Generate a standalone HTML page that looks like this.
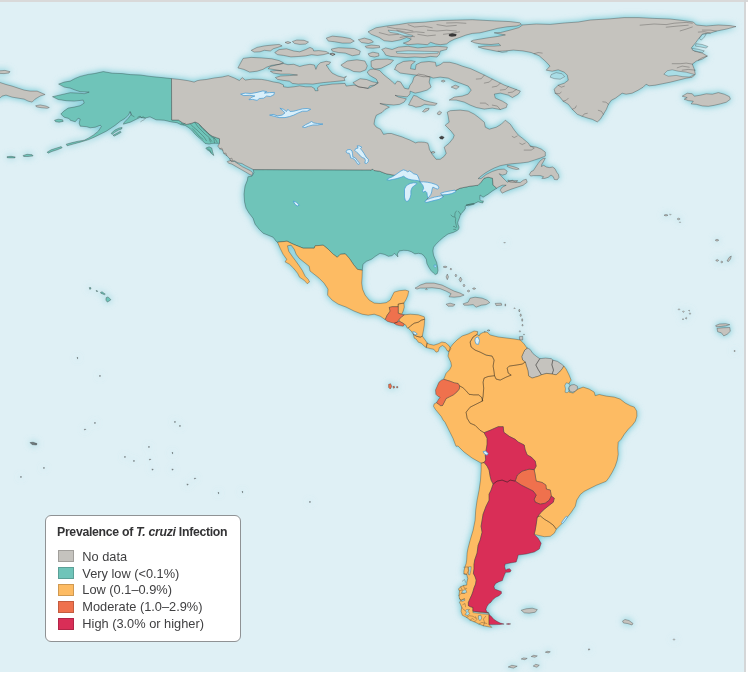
<!DOCTYPE html>
<html lang="en"><head><meta charset="utf-8"><title>Prevalence of T. cruzi Infection</title>
<style>
html,body{margin:0;padding:0;background:#fff;}
body{width:748px;height:673px;overflow:hidden;position:relative;font-family:"Liberation Sans",sans-serif;}
#top{position:absolute;left:0;top:0;width:748px;height:1.7px;background:#d9d9d9;}
#right{position:absolute;left:744.4px;top:0;width:1.9px;height:672px;background:#d4d6d7;}
#map{position:absolute;left:0;top:1.5px;width:744.5px;height:670.5px;background:#dff0f5;overflow:hidden;}
#map svg{position:absolute;left:0;top:-1.5px;}
#legend{position:absolute;left:45px;top:514.8px;width:195.5px;height:127.4px;box-sizing:border-box;background:#fff;border:1px solid #8f9294;border-radius:6px;}
#legend h1{position:absolute;left:11px;top:8.1px;margin:0;font-size:12.3px;line-height:16px;font-weight:bold;color:#333335;white-space:nowrap;letter-spacing:-0.31px;}
#legend ul{list-style:none;margin:0;padding:0;position:absolute;left:12.3px;top:35.2px;}
#legend li{height:16.85px;position:relative;white-space:nowrap;}
#legend li i{position:absolute;left:0;top:-0.5px;width:13.6px;height:9.9px;border:1px solid rgba(0,0,0,.18);}
#legend li span{position:absolute;left:24px;top:-2.2px;font-size:12.8px;line-height:16px;color:#404042;}
</style></head><body>
<div id="map"><svg width="748" height="673" viewBox="0 0 748 673">
<defs><filter id="glow" x="-5%" y="-5%" width="110%" height="110%"><feGaussianBlur stdDeviation="3.7"/><feComponentTransfer><feFuncA type="linear" slope="1.5"/></feComponentTransfer></filter></defs>
<path d="M171.7,120 178.4,120 182.4,122.7 186.4,124.4 191.1,123.4 195.1,122 198.4,123.4 202.4,127.4 205.8,130.7 209.1,134.1 212.5,136.3 216.5,137.7 219.5,138.7 219.5,143.4 215.1,143.2 211.8,143.4 209.1,144.1 205.1,143.4 201.8,140.1 197.8,136.7 194.4,133.4 191.7,130.1 188.4,127.4 185.1,125.4 181,124.7 177,122.7 171.7,122 164.1,120.2 156,119.8 150,116.8 144.4,118.2 140.4,117.2 136.4,119.2 130.3,122.2 123.3,124.2 124.3,122.2 128.3,118.2 131.4,114.1 130.3,111.7 128.3,115.1 125.3,118.2 120.3,121.2 115.3,125.2 112.3,127.2 106.3,131.2 100.3,134.2 94.3,137.2 88.2,139.8 80.2,142.2 74.2,143.8 67.2,145.8 66.2,144.2 72.2,142.6 78.2,141.2 84.2,140.2 88.2,138.2 93.2,135.2 98.3,131.2 101.3,126.6 100.3,125.2 95.3,127.2 90.2,127.8 86.2,126.6 80.2,126.2 79.2,123.2 80.2,119.2 78.2,118.2 75.2,121.8 70.2,120.2 69.2,118.6 64.2,117.2 60.8,114.1 63.8,111.1 68.2,108.1 74.2,107.1 80.2,105.7 84.2,103.1 83.2,100.1 74.2,101.1 66.2,100.7 58.2,99.5 52.5,96.7 62.2,94.5 70.2,92.7 78.2,93.1 84.2,93.7 89.2,92.1 80.2,91.7 75.2,90.1 70.2,88.1 64.2,87.1 58.6,84.1 64.2,82.1 70.2,81.1 75.2,78.4 80.2,76.4 88.2,74.4 94.3,73.6 103.3,71.6 112.3,73.2 122.3,73.6 130.3,74.6 140.4,75 150,76.4 156,77 164.1,77.8 171.5,78.6ZM111.2,133.3 114.9,130.1 119.1,128 122.1,127.5 121.7,128.9 118.5,130.1 114.9,132.1 112.1,134.5ZM113,135.3 116.7,133.3 120.3,131.3 121.2,132.3 117.9,134.2 114.3,136.1ZM54.5,120.2 58.2,119.2 62.6,119.8 63.2,121.4 59.2,122.2 55.7,121.8ZM47.1,152.2 51.1,149.8 56.1,148.2 61.2,146.6 62.2,147.8 57.2,149.8 52.1,151.4 48.1,153.2ZM23.1,155.5 27.1,154.3 32.1,154.7 33.1,155.9 28.1,156.5 23.7,156.5ZM7,156.7 11,156.3 15.2,156.9 14.8,157.9 10,157.9 7.2,157.7ZM205.8,148.1 209.1,146.8 211.8,148.1 212.5,151.4 213.8,155.5 211.8,154.1 209.8,151.4 207.1,149.8ZM-12,82.5 0,82.5 6,84.5 12,86.1 18,88.1 24.1,90.1 30.1,91.1 37.1,91.1 45.1,94.5 40.1,96.1 35.1,99.1 32.1,102.1 28.1,101.1 24.1,99.1 18,98.1 12,97.1 6,95.1 2,96.1 0,98.1 -12,98.1ZM35.7,105.7 40.1,104.9 46.1,106.1 49.3,107.5 47.1,108.3 41.1,107.7 36.5,106.9ZM-8,70.8 0,70.8 5,70.4 10,71.6 9,73 4,73.6 0,73.4 -8,73.4ZM522.1,25 536.2,24 550.2,24.4 564.3,23 578.3,22 590.3,20 610.4,18.8 624.1,17.6 638.1,17.6 654.1,18.4 670.2,19 682.2,20.4 693.3,22 696.3,25 706.3,26 718.3,25 730.4,25.6 736,26.6 726.3,29.1 716.3,31.1 710.3,33.1 702.3,34.1 698.3,39.1 695.3,43.1 691.2,48.1 694.3,51.1 702.3,53.1 707.3,56.1 702.3,59.1 696.3,61.1 692.3,64.1 694.3,69.2 695.3,74.2 692.3,77.2 686.2,78.2 678.2,80.2 670.2,82.2 662.2,83.8 655.2,85.2 649.1,85.8 646.1,84.2 643.1,87.2 638.1,90.2 632.1,93.2 626.1,94.2 622.1,93.2 618.1,96.2 615.4,98.2 611.4,100.2 608.4,104.3 606.4,109.3 603.4,114.3 600.3,119.3 597.3,121.9 592.3,119.3 588.3,118.3 582.3,116.3 577.3,114.3 572.3,109.3 568.3,104.3 563.2,101.2 559.2,96.2 555.2,93.2 554.2,89.2 558.2,85.2 564.3,83.2 568.3,80.2 567.3,75.2 564.3,72.2 558.2,69.8 552.2,71.2 546.2,70.2 550,66.1 545.5,61.3 539.1,55.7 531.1,52.5 523,50.9 513.4,50.1 505.4,50.9 497.4,51.4 491,50.1 482.9,48.5 478.1,46.9 486.1,46.1 494.2,46.1 500.6,45.6 499,43.7 491,44.5 481.3,44 474.9,42.9 470.9,41.3 473.3,40.2 481.3,38.9 489.4,37.6 497.4,36.5 505.4,34.9 500.6,34.1 494.2,32.8 500.6,32.5 510.2,30.1 519,27.6 522.2,25.2ZM682.2,96.2 687.2,93.2 692.3,93.8 694.3,96.2 700.3,95.2 706.3,93.8 712.3,94.2 718.3,92.6 724.3,94.2 729.4,96.6 730.4,99.2 726.3,102.2 720.3,103.9 714.3,105.3 708.3,106.3 702.3,105.9 696.3,104.3 691.2,103.9 693.3,101.2 688.2,100.6 684.2,99.2 687.2,97.6ZM368,31.8 376,27.8 387.3,25.9 398.5,24.6 408.1,23 424.2,22.2 440.2,20.6 456.3,20.1 472.3,19.7 494.2,20.9 510.2,21.6 519.8,22.8 521.4,24.4 516.6,26 507,26.8 497.4,28.4 491,30.1 484.5,31.7 479.9,32.8 472.3,33.4 465.9,35.1 459.5,37.5 454.7,39.1 449.8,41.5 446.6,43.9 440.2,44.7 435.4,43.9 430.6,42.3 427.4,44.7 417.8,43.9 408.1,44.7 403.3,43.1 408.1,41.5 411.3,39.1 406.5,37.5 400.1,39.9 392.1,41.5 384.1,40.7 379.3,37.5 371.2,34.3ZM381.7,49.5 385.7,47.9 392.1,49.5 398.5,47.1 408.1,46.3 417.8,47.9 427.4,47.1 437,46.3 447.4,47.1 446.6,49.5 440.2,51.1 439.4,54.3 437,57 430.6,56.4 424.2,57.5 414.5,57 406.5,57.5 398.5,57 390.5,56.4 385.7,55.1 384.1,52.2ZM171.5,78.6 180.1,79.5 188.1,80.7 194.1,82.1 197.2,80.7 200.2,80.1 206.2,79.5 214.2,78 222.2,77 228.2,75.6 234.3,78 239.3,80.5 242.3,77.6 245.3,80.1 252.3,79.1 261.5,79.4 267.4,80.4 273.2,81.9 279.1,82.9 283.5,84.9 283.5,86.8 287.9,87.4 293.8,86.8 299.7,85.9 305.6,86.8 311.5,86.8 314.4,88.5 315.1,90.7 318.1,90.7 317.4,87.8 320.3,85.6 326.2,84.9 332.1,84.1 337.9,83.8 345,83.4 346.2,86.1 354.2,85.1 360.2,87.1 368.2,88.5 374.3,85.5 378.3,83.1 376.3,79.1 369.2,75.1 367.2,72 370.2,69.4 374.3,69 379.7,70.6 383.7,74.7 387.7,77.9 391.7,81.1 394.9,84.3 397.3,81.1 400.5,81.9 404.5,88.3 408.5,89.1 410.1,85.1 412.4,82.1 414,77.1 418.4,74.1 424.4,75.1 430,77.1 430.1,77.5 429.1,82.1 431.1,87.1 427.1,90.1 420.1,92.1 415.1,93.1 410.1,91.1 410,94 407.1,96.9 398.2,95.9 395,95.3 398.5,97.1 406.3,98.8 404.1,102.1 399.7,104.3 393.8,105 386.5,104.4 379.9,103.5 385.7,105.3 389.4,107.2 385,109.4 382.1,112.4 376.2,115.3 374.7,119.7 374,124.1 376.2,127.1 380.6,129.3 383.5,134.4 387.6,133.5 391.4,133.5 394.6,134.6 397.8,135.6 402.1,136.9 405.3,138.3 409.6,139.9 413.9,142.1 415.5,142.9 418.1,142.1 421.3,142.1 424.5,142.3 427.8,143.1 428.8,146.3 429.4,149.5 432.1,154.3 436.1,159.3 440.2,159.3 444.2,156.3 446.2,153.3 444.2,147.2 449.2,143.2 453.2,138.2 454.2,135.2 451.2,131.2 447.2,127.2 445.2,125.2 449.2,122.2 448.2,116.2 447.2,112.2 450.2,110.7 460.2,110.1 468.2,111.1 474.3,114.2 478.3,117.2 484.3,122.2 485.3,127.2 489.3,129.2 496.3,127.2 501.3,124.2 505.3,120.2 510.3,124.2 514.4,130.2 518.4,135.2 522.4,138.2 528.4,143.2 530.2,146.1 536.3,147.1 541.3,149.1 545.3,152.1 545.3,156.1 540.3,158.1 534.3,160.1 528.2,162.1 520.2,163.1 512.2,163.7 506.2,164.5 500.2,165.7 494.1,168.1 490.1,170.1 485.1,173.1 481.1,176.1 478.1,178.6 481.1,178.6 486.1,174.5 492.1,171.5 498.2,169.5 504.2,169.1 507.2,171.1 506.2,174.1 502.2,175.1 499.2,173.7 502.2,177.2 505.2,180.2 507.2,182.2 512.2,180.2 515.2,182.2 520.2,182.6 523.2,180.2 526.2,179.2 527.2,182.2 523.2,185.2 517.2,187.2 511.2,189.2 506.2,191.2 502.2,193.2 500.2,190.2 502.2,187.2 506.2,185.2 502.2,185.2 498.2,187.2 496.8,188.2 493.1,185.2 492.5,178.2 488.1,177.2 484.1,178.2 481.1,182.2 478.1,185.2 470.1,186.2 460.1,188.2 456,190.2 455.8,190.4 448.6,193 441.4,194.6 443,196.5 434.2,199.3 425.7,201.3 428.6,197.3 431,191.7 429.4,186.1 422.9,182.9 419.7,181.8 418.1,178.9 410.1,176.5 402.1,174.9 394.1,175.2 386,173.7 379.6,171.2 374,170.5 372.4,168.9 371.3,170.1 370,169.9 253.2,169.6 253.2,169.5 249.2,167.5 245.2,165.5 241.9,163.5 237.9,162.8 234.5,160.8 231.2,161.5 229.8,158.8 227.2,156.1 223.8,153.4 222.5,150.1 219.8,148.8 217.8,146.1 219.5,143.4 219.5,138.7 216.5,137.7 212.5,136.3 209.1,134.1 205.8,130.7 202.4,127.4 198.4,123.4 195.1,122 191.1,123.4 186.4,124.4 182.4,122.7 178.4,120 171.7,120ZM227.2,161.5 230.5,160.5 234.5,161.5 238.5,164.1 242.5,166.8 246.6,168.8 250.6,170.8 252.6,172.8 251.9,175.5 249.2,174.2 245.2,171.8 241.2,169.5 236.5,166.8 231.8,164.1 228.5,163.2ZM529.4,174.4 531.1,171.6 533.4,170.5 535.7,167 538,163.6 540.2,160.8 543.1,158.5 545.3,158.2 543.6,161.4 541.9,164.2 541.4,166.5 543.6,165.3 546.5,167 549.3,167.6 552.7,167 555,168.8 556.7,172.2 558.4,174.4 559,177.3 557.3,179.8 554.4,179.5 553.3,176.7 551,175 548.2,177.3 544.8,178.4 541.9,178.4 543.6,176.7 540.2,175.6 536.8,175.6 533.4,175.6 530.6,176.1ZM507.3,165.3 510.7,165.9 514.1,166.8 518.1,168.2 519.2,169.1 516.4,169.5 513,168.8 509.5,167.6 507.3,166.5ZM507.8,180.1 511.2,180.9 514.1,180.7 517.5,180.5 516.9,181.8 513.5,182.4 510.1,182 508.2,181.2ZM253.2,169.6 370,169.9 371.3,170.1 372.4,168.9 374,170.5 379.6,171.2 386,173.7 394.1,175.2 402.1,174.9 410.1,176.5 418.1,178.9 419.7,181.8 422.9,182.9 429.4,186.1 431,191.7 428.6,197.3 425.7,201.3 434.2,199.3 443,196.5 441.4,194.6 448.6,193 455.8,190.4 456,190.2 460.1,188.2 470.1,186.2 478.1,185.2 481.1,182.2 484.1,178.2 488.1,177.2 492.5,178.2 493.1,185.2 496.8,188.2 492.1,191.2 488.1,194.2 483.1,197.2 480.1,195 479.8,197.7 480.1,199.7 481.4,201 483.4,200.9 482.8,203 480.1,202.4 478.1,201.7 476.1,202.7 473.4,204 469.4,204.5 466.7,205 465.1,206.4 465.4,208.4 464.1,210.4 462.4,212.4 461.1,213.7 460.1,215.7 459.4,218.1 458.4,220.4 457.7,222.4 458,224.4 459.1,227.1 458.7,229.1 457.4,230.4 455.4,231.4 453.4,232.4 448,234 443.8,237 439.6,240.6 435.9,244.3 433.5,247.3 432.9,250.9 433.5,255.1 434.7,258.1 436.6,262.3 437.5,266.5 438,270.7 437.2,273.7 435.3,274.6 433.5,273.1 431.1,270.7 428.7,267.1 426.9,263.5 426.3,259.3 423.9,255.7 421.5,253.9 418.5,253.3 414.9,253.9 411.3,251.7 407.7,250.5 403.5,250.3 399.3,250.9 397.4,253.9 398,256.9 396.2,255.1 394.4,253.3 392,255.7 388.4,256.3 384.8,254.5 380,253.3 375.4,256.3 371.4,259.3 366.4,261.3 362.9,264.3 362.3,270.3 357.3,269.3 353.3,264.3 349.3,258.3 345.3,253.9 340.3,254.3 337.3,257.3 333.3,254.3 328.2,249.2 323.2,245.2 315.2,245.8 314.2,248.2 303.2,248.2 293.2,244.2 287.1,241.2 277.5,242.2 276.1,241.2 273.1,237.2 268.1,235.2 263.1,233.2 259.1,229.2 255.1,224.2 253,218.2 249,213.1 246,208.1 244.6,202.1 244,194.1 245,186.1 247.4,180.1 247.9,176.8 251.9,176.2 253.9,172.8ZM466.1,205.2 469.4,204.2 473.4,203.4 474.4,204 471.4,205 468.1,205.8ZM277.5,242.2 287.1,241.2 293.2,244.2 303.2,248.2 314.2,248.2 315.2,245.8 323.2,245.2 328.2,249.2 333.3,254.3 337.3,257.3 340.3,254.3 345.3,253.9 349.3,258.3 353.3,264.3 357.3,269.3 362.3,270.3 362.1,277.1 361.7,283.1 362.5,289.1 365.1,295.1 369.2,300.1 374.2,303.1 380.2,303.5 386.2,302.7 390.2,300.1 392.2,296.1 394.2,292.1 399.2,290.7 405.3,290.1 408.7,291.1 407.9,295.1 406.3,299.1 403.9,303.1 403.9,303.1 401.2,303.5 398.2,304.1 398.2,306.7 392.2,306.7 389.2,307.5 390.2,311.1 387.2,315.2 385.2,319.6 380.2,316.2 374.2,314.2 368.2,315.2 362.1,314.2 354.1,311.1 346.1,307.1 338.1,304.1 332.1,300.1 327.6,295.1 328,289.1 324,283.1 319,278.1 314,274.1 310,271 309.2,266.3 304.2,262.3 299.2,258.3 296.2,254.3 294.2,249.2 291.1,245.2 287.5,245.8 288.7,251.2 292.2,256.3 295.2,260.3 298.8,265.3 302.2,270.3 305.2,276.3 308.2,279.3 309.6,281.9 307.2,283.7 304.2,280.3 299.6,277.3 297.6,273.3 293.6,268.3 289.5,264.3 285.1,261.9 286.7,259.3 283.1,254.3 280.1,248.2ZM385.2,319.6 387.2,315.2 390.2,311.1 389.2,307.5 392.2,306.7 398.2,306.7 398.2,313.2 401.2,314.2 404.3,314.8 402.2,316.2 399.2,319.2 397.2,322.2 394.2,323.2 390.2,322.2 387.2,321.2ZM398.2,304.1 401.2,303.5 403.9,303.1 404.3,307.1 403.2,311.1 401.8,314.2 398.2,313.2 398.2,306.7ZM394.2,323.2 397.2,322.2 399.2,321.2 402.2,322.8 404.3,324.2 403.2,326.2 399.2,325.6 396.2,324.8ZM404.3,314.8 410.3,314.2 418.3,314.8 424.3,316.8 424.7,319.2 421.3,320.2 418.3,322.2 414.3,323.2 411.3,325.2 409.3,327.2 407.3,328.2 405.9,325.2 404.3,324.2 402.2,322.8 399.2,321.2 399.2,319.2 402.2,316.2ZM424.7,319.2 424.3,325.2 423.3,331.2 422.3,336.2 420.3,337.2 416.3,336.2 413.3,334.2 411.3,331.2 408.3,328.2 409.3,327.2 411.3,325.2 414.3,323.2 418.3,322.2 421.3,320.2ZM413.3,334.2 416.3,336.2 420.3,337.2 422.3,336.2 425.3,340.2 427.3,343.2 426.3,347.6 424.3,346.2 421.3,343.2 418.3,342.2 416.3,339.2 414.3,338.2ZM426.9,342.9 429.3,344.2 433.8,345.2 438.2,343.8 441.9,342 445.6,342.7 448.9,345.5 450.8,348.7 449.1,351.5 447.1,350.7 445.3,347.5 442.4,345.5 439.4,347.5 438.2,351.5 436,352.2 433.8,349.3 430,348.5 426.3,347.6ZM418,286.5 420,285.1 426,283.1 434,283.1 442.1,285.1 448.1,288.1 454.1,291.1 460.1,293.1 464.1,295.1 460.1,296.6 454.1,297.2 449.1,296.8 451.1,293.7 446.1,291.1 440.1,288.7 432,287.7 425,288.1 420,288.1 417,289.1 415,288.1ZM446.1,304.2 450.1,303.2 455.1,304.6 453.1,306.2 448.1,306.2ZM463.1,303.8 468.1,302.2 470.1,298.2 475.1,297.2 482.2,298.2 487.2,300.2 489.8,302.6 486.2,304.6 481.2,305.2 476.1,307.2 473.1,304.6 468.1,305.2 464.1,305.2ZM495.2,303.4 501.2,303.2 501.8,305.2 496.2,305.6ZM519.3,336.7 522.7,336.3 522.7,339.9 519.7,339.9ZM443.1,266.9 445.1,266.1 447.1,266.9 445.1,267.7ZM450.1,269.1 450.9,268.1 451.7,269.1 450.9,270.1ZM446.1,276.9 447.3,274.1 448.5,276.9 447.3,279.7ZM455.1,275.5 455.9,274.1 456.7,275.5 455.9,276.9ZM459.1,279.6 460.5,277.1 461.9,279.6 460.5,282.1ZM463.1,285.5 464,284.1 464.9,285.5 464,286.9ZM467.1,291 468.5,290.1 469.9,291 468.5,291.9ZM472.5,288.6 474.1,287.7 475.7,288.6 474.1,289.5ZM504.8,305 505.3,303.8 505.8,305 505.3,306.2ZM513.9,308.4 514.5,307.8 515.1,308.4 514.5,309ZM518.7,310.6 519.3,309.2 519.9,310.6 519.3,312ZM519.9,315.2 520.7,313.8 521.5,315.2 520.7,316.6ZM521.5,320 522.2,318.6 522.9,320 522.2,321.4ZM521.9,325.2 522.5,324.2 523.1,325.2 522.5,326.2ZM519.3,331.4 519.9,330.6 520.5,331.4 519.9,332.2ZM523.5,334.5 524,333.9 524.5,334.5 524,335.1ZM425.6,289.3 426.4,288.5 427.2,289.3 426.4,290.1ZM487.2,330.4 488.6,329.8 490,330.4 488.6,331ZM484.2,331.8 484.8,331.2 485.4,331.8 484.8,332.4ZM450,348 453,344 457,340 462.1,336 468.1,334 474.1,331 477.7,331.6 477.1,334.4 473.1,337 470.1,342 471.1,347 475.1,350.1 480.1,352.1 486.1,355.1 492.1,356.1 494.1,360.1 493.1,366.1 494.1,372.1 494.5,375.7 494.5,375.7 488.1,376.5 484.1,378.1 483.1,382.1 483.7,388.2 483.1,396.2 482.1,401.2 482.1,401.2 482.8,400.9 481.6,397.3 478.6,394.9 473.8,394.9 469,394.3 466.6,391.3 462.9,387.7 459.6,385.9 459.6,385.9 458.1,383.5 454.5,382.9 449.7,381.1 443.7,379.3 446.1,373.2 449.7,369.6 451.5,366 450.9,362.4 448,356.1 449,351.1ZM438.3,399.7 440.1,397.3 437.7,396.1 435.9,394.3 435.5,390.1 437.1,386.5 438.9,382.3 441.3,380.2 443.7,379.3 449.7,381.1 454.5,382.9 458.1,383.5 459.6,385.9 459.6,385.9 459.3,388.9 456.9,391.9 453.3,394.9 449.7,396.7 446.1,398.5 444.3,402.1 442.5,405.5 440.7,405.7 438.3,403.9 436.5,402.7ZM494.5,375.7 494.1,372.1 493.1,366.1 494.1,360.1 492.1,356.1 486.1,355.1 480.1,352.1 475.1,350.1 471.1,347 470.1,342 473.1,337 477.1,334.4 479.1,336 480.1,334 483.1,332.4 487.1,332 490.1,335 498.2,337 506.2,338 514.2,339 520.2,340 524.2,344 527.2,348.4 527.4,348 524.7,350.1 523.4,352.7 521.7,356.7 522.7,360.1 525.4,362.1 525.2,362.1 522.2,364.1 516.2,365.1 509.2,366.1 507.2,368.1 508.2,373.1 511.2,375.1 506.2,377.1 500.2,380.1 496.1,379.1 494.5,375.7ZM525.4,362.1 522.7,360.1 521.7,356.7 523.4,352.7 524.7,350.1 527.4,348 530.1,349.4 532.8,353.4 536.8,356.7 539.8,358.7 538.1,361.4 535.8,365 538.1,369.4 541.4,374.8 541.4,374.8 538.8,376.1 532.1,378.1 528.7,376.1 527.8,370.1 526.1,365 525.4,362.1ZM541.4,374.8 538.1,369.4 535.8,365 538.1,361.4 539.8,358.7 545.5,358.1 551.5,358.7 552.8,360.1 551.9,364.8 553.5,370.1 552.1,374.1 552.1,374.1 546.8,373.4 541.4,374.8ZM552.1,374.1 553.5,370.1 551.9,364.8 552.8,360.1 557.5,361.4 561.5,364.1 563.9,366.1 562.2,368.8 559.5,372.1 556.1,374.8 552.1,374.1ZM494.5,375.7 496.1,379.1 500.2,380.1 506.2,377.1 511.2,375.1 508.2,373.1 507.2,368.1 509.2,366.1 516.2,365.1 522.2,364.1 525.2,362.1 525.4,362.1 526.1,365 527.8,370.1 528.7,376.1 532.1,378.1 538.8,376.1 541.4,374.8 541.4,374.8 546.8,373.4 552.1,374.1 552.1,374.1 556.1,374.8 559.5,372.1 562.2,368.8 563.9,366.1 566.1,369 569.1,375 571.1,380.1 569.1,383.1 567.1,387.1 569.1,392.1 573.1,393.1 578.1,389.1 583.1,387.1 589.2,389.1 594.2,392.1 595.2,395.7 599.2,394.5 606.2,396.1 614.2,397.1 620.2,399.1 625.3,403.1 630.3,405.7 634.3,407.1 636.7,411.1 636.9,416.1 635.3,421.2 632.3,425.2 628.3,429.2 624.3,434.2 621.2,439.2 618.2,442.2 617.8,448.2 618.2,454.3 617.2,460.3 615.2,466.3 612.2,472.3 609.2,477.3 606.2,481.3 601.2,483.3 596.2,485.3 590.2,488.3 584.1,491.4 580.3,494.5 576.7,500.2 575.3,506.2 571.3,512.2 567.3,517.2 563.3,522.2 559.3,526.2 556.3,529.2 553.3,525.2 549.3,522.2 544.3,519.2 540.2,515.8 537.2,517.2 537.2,517.2 540.2,513.2 544.3,509.2 549.3,505.2 553.3,502.2 554.3,498.2 551.3,496.1 551.3,496.1 550.3,490.1 546.3,489.1 545.9,485.1 542.2,482.5 536.2,481.1 535.2,475.1 534.2,469.7 534.2,469.7 536.2,466.1 535.2,461.1 531.2,457 527.2,455 525.2,450 524.2,445 518.2,442 515.2,439.3 509.2,436.3 503.8,432.3 503.2,426.7 498.2,426.7 490.1,430.3 484.1,432.7 484.1,432.7 480.1,430.3 478.1,428.3 475.1,425.3 470.1,423.2 467.1,418.2 466.1,412.2 470.1,407.2 476.1,404.2 482.1,401.2 482.1,401.2 483.1,396.2 483.7,388.2 483.1,382.1 484.1,378.1 488.1,376.5 494.5,375.7ZM568.9,387.5 570.9,385.1 574.2,384.5 577.3,386.1 577.5,388.8 575.5,391.2 572.2,392.2 569.5,390.8ZM436.5,402.7 438.3,403.9 440.7,405.7 442.5,405.5 444.3,402.1 446.1,398.5 449.7,396.7 453.3,394.9 456.9,391.9 459.3,388.9 459.6,385.9 459.6,385.9 462.9,387.7 466.6,391.3 469,394.3 473.8,394.9 478.6,394.9 481.6,397.3 482.8,400.9 482.1,401.2 476.1,404.2 470.1,407.2 466.1,412.2 467.1,418.2 470.1,423.2 475.1,425.3 478.1,428.3 480.1,430.3 484.1,432.7 487.1,438.3 487.1,444.3 486.1,450.3 485.3,455.3 485.7,460.1 484.1,462.5 481.1,463.1 472.1,458 464,452 458,446 456,446.3 453,438.3 449,430.3 445,422.2 443.1,420 441.3,416.6 438.3,412.9 435.3,409.3 433.5,406.3 434.1,403.9ZM484.1,432.7 490.1,430.3 498.2,426.7 503.2,426.7 503.8,432.3 509.2,436.3 515.2,439.3 518.2,442 524.2,445 525.2,450 527.2,455 531.2,457 535.2,461.1 536.2,466.1 534.2,469.7 534.2,469.7 529.2,469.1 522.2,471.1 517.2,475.1 515.2,481.1 515.2,481.1 510.2,480.1 507.2,482.1 502.1,480.1 497.1,481.1 493.1,484.1 493.1,484.1 491.1,480.1 490.1,476.1 489.1,470.1 487.1,466.1 484.1,462.5 484.1,462.5 485.7,460.1 485.3,455.3 486.1,450.3 487.1,444.3 487.1,438.3 484.1,432.7ZM515.2,481.1 517.2,475.1 522.2,471.1 529.2,469.1 534.2,469.7 534.2,469.7 535.2,475.1 536.2,481.1 542.2,482.5 545.9,485.1 546.3,489.1 550.3,490.1 551.3,496.1 551.3,496.1 549.3,500.2 545.3,503.2 540.2,504.2 535.2,502.2 534.2,499.2 536.2,495.1 533.2,491.1 527.2,488.1 521.2,485.1 515.2,481.1ZM537.2,517.2 540.2,515.8 544.3,519.2 549.3,522.2 553.3,525.2 556.3,529.2 554.3,533.2 550.3,536.3 544.3,536.7 538.2,535.3 534.2,534.3 535.2,530.2 536.2,524.2 537.2,517.2ZM493.1,484.1 497.1,481.1 502.1,480.1 507.2,482.1 510.2,480.1 515.2,481.1 515.2,481.1 521.2,485.1 527.2,488.1 533.2,491.1 536.2,495.1 534.2,499.2 535.2,502.2 540.2,504.2 545.3,503.2 549.3,500.2 551.3,496.1 554.3,498.2 553.3,502.2 549.3,505.2 544.3,509.2 540.2,513.2 537.2,517.2 536.2,524.2 535.2,530.2 534.2,534.3 538.2,538.3 541.2,543.3 539.3,549 534.3,552 526.2,554 518.2,555 517.2,559 516.2,562 510.2,563 505.2,564.1 504.6,566.7 505.7,570.3 507.4,569.1 509.6,568.7 511.1,570.3 510.2,572 508,572.3 505.7,572.3 504.6,574.5 503.3,577.8 502.4,580.6 499,581.7 495.7,583.4 494,586.2 494.6,589 497.9,590.3 501.3,591.4 501.5,593.4 499,595.7 495.7,597.3 492.9,599.6 490.7,602.4 488.5,604 486.8,606.8 485.9,609.6 486.8,611.8 489,613.3 486.2,612.4 482.3,612.2 476.8,611.8 472.9,611.3 472.9,607.4 470.6,606.8 468.4,605.7 468.4,602.4 470.1,598.5 471.7,595.1 472.9,591.8 474,587.9 475.6,584 476.2,580.1 475.1,576.7 473.4,573.4 474,568.9 474,564.5 474.7,560 477.1,553 478.1,545.3 480.1,540.3 482.1,532.2 481.1,526.2 482.1,520.2 483.1,514.2 486.1,506.2 489.1,500.2 489.1,494.1 491.1,490.1 493.1,484.1ZM489,614.6 491.2,616.3 493.5,619.1 496.8,621.3 500.2,623 504.1,624.1 500.2,624.4 496.8,624.6 489,624.6ZM506.3,624 508.5,623.6 510.7,623.9 508.5,624.4ZM484.1,462.5 487.1,466.1 489.1,470.1 490.1,476.1 491.1,480.1 493.1,484.1 493.1,484.1 491.1,490.1 489.1,494.1 489.1,500.2 486.1,506.2 483.1,514.2 482.1,520.2 481.1,526.2 482.1,532.2 480.1,540.3 478.1,545.3 477.1,553 474.7,560 474,564.5 474,568.9 473.4,573.4 475.1,576.7 476.2,580.1 475.6,584 474,587.9 472.9,591.8 471.7,595.1 470.1,598.5 468.4,602.4 468.4,605.7 470.6,606.8 472.9,607.4 472.9,611.3 476.8,611.8 482.3,612.2 486.2,612.4 489,613.3 489,614.6 489,624.6 491.8,627.4 487.9,626.7 483.4,625.8 479,624.1 474.5,621.9 470.1,620.2 466.7,617.4 462.3,615.2 461.1,611.3 461.7,607.4 460.6,604.6 459.5,602.4 460.6,600.7 459.5,598.5 458.9,595.7 459.5,591.2 458.4,589 460.6,586.8 463.4,585.6 466.7,585.1 466.9,582.3 467.8,578.4 466.7,574.5 463.9,573.9 463.9,571.1 465,566.7 466.2,563.3 466.7,560 467.1,553 468,548.3 470.1,540.3 473.1,530.2 475.1,520.2 475.7,510.2 477.1,500.2 479.1,490.1 480.5,480.1 481.1,470.1 481.1,463.1ZM521.2,610.2 526.2,608.8 532.2,608.2 537.3,609.6 535.3,612.2 529.2,613.2 524.2,612.8ZM545.3,652.2 547.3,651.3 550.3,651.8 548.3,652.9ZM531.2,656.5 533.6,655.3 537.3,655.9 534.9,657.3ZM521.2,659 523.6,657.9 527.2,658.4 524.8,659.7ZM508.2,667 511.8,665.3 517.2,666.2 513.6,668.1ZM533.2,666.1 535.7,664.3 539.3,665.2 536.9,667.3ZM588,649.6 588.8,648.9 590,649.2 589.2,650.1ZM388.6,384.3 390.6,383.7 391.8,386.4 390.2,389 388.6,387.4ZM393,386.6 394.2,386.1 394.6,387.8 393.4,388.2ZM396.6,386.6 397.8,386.6 397.8,387.8 396.6,387.8ZM237.9,67.9 243.1,58.4 251.2,57.4 261.5,57.9 271.8,58.8 279.1,60.6 283.5,62.8 279.1,64.3 271.8,65.3 266.6,67.2 262.9,69.4 257.1,71.2 249.7,72.1 243.8,69.4ZM268.1,68.7 270.3,66.5 276.2,65 283.5,63.5 287.9,64.7 293.8,64.3 299.7,66.5 304.1,65.3 310,64.3 314.4,65 315.9,69.4 317.4,65.7 320.3,62.8 326.2,61.3 330.6,62.1 329.1,64.3 326.2,65 329.1,69.4 332.1,73.1 337.9,76 343.8,77.5 346.5,76.3 344,78.7 345,80.4 337.9,81.2 330.6,81.9 323.2,82.6 317.4,83.4 312.9,84.1 305.6,83.8 298.2,84.1 292.4,83.4 289.4,81.2 283.5,80.4 277.6,79.4 275.4,77.5 280.6,76 289.4,75.6 297.5,75 289.4,74.1 280.6,74.1 273.2,73.1 270.3,71.2 276.2,70.6 282.1,70.9 273.2,69.4ZM251.2,50.3 257.1,47.4 264.4,45.9 271.8,45.1 279.1,44.4 282.1,45.9 277.6,47.4 273.2,48.8 270.3,51 264.4,50.3 260,51.8 254.1,52.1ZM274.7,52.5 279.1,49.6 286.5,48.8 293.8,51 299.7,51.8 305.6,49.6 310,47.4 312.9,48.8 313.7,51 318.8,50.6 326.2,51.5 329.1,53.2 323.2,54.7 317.4,55.4 311.5,54.7 305.6,55.9 298.2,56.5 290.9,56.9 283.5,55.4 277.6,54.7ZM329.9,54.1 332.4,53.5 335,54.4 332.8,55.4ZM285,42.4 287.9,41.5 290.9,42.6 287.9,43.7ZM292.4,41.5 296.8,40 304.1,40.3 308.5,42.1 305.6,44.1 299.7,44.4 294.6,43.5ZM326.3,38.1 332.3,36.1 342.3,37.1 350.3,38.5 354.3,41.1 350.3,43.1 342.3,43.1 334.3,41.7 328.3,41.1ZM358.3,39.7 364.4,38.1 371.4,40.1 373.4,42.1 368.4,43.5 361.4,42.5ZM331.3,49.1 338.3,47.7 346.3,48.1 354.3,48.5 360.3,51.1 359.3,54.5 352.3,55.7 345.3,53.1 338.3,52.5 332.3,51.1ZM340.9,65.1 347.3,61 356.9,59.8 364.9,61 367.3,65.9 365.7,69.9 360.1,72 353.7,71.5 348.9,69.1 344.1,67.5ZM371,61 376.1,59.4 387.4,59.1 393.5,60.2 390.6,63.4 385.8,65.9 381,68.3 374.5,69.1 371.3,66.7ZM352.9,82.7 360.1,78.7 366.5,79.5 372.9,81.9 377.8,82.7 374.5,85.1 369.7,85.9 368.1,88.3 363.3,87.5 358.5,87ZM368.1,53.8 372.9,52.2 378.6,53.3 379,55.9 374.5,57 369.7,56.2ZM365.2,46.3 371.3,45 379.4,45.8 379.7,47.6 372.9,48.2 366.5,47.9ZM329.6,53.8 332.8,53 335.2,54.3 332.5,55.4ZM394.5,69.5 396.9,64.7 403.3,61.5 411.3,60.7 415.3,61.5 411.3,64.7 410.5,68.7 415.3,69.5 416.1,64.7 421,62.3 429,61.5 435.4,62.3 436.2,66.3 440.2,64.7 443.4,62.3 449.8,62.3 456.3,63.9 462.7,66.3 470.7,68.7 482.3,74.1 490.3,78.1 496.3,81.1 504.3,85.1 512.4,88.1 520.4,91.1 518.4,94.1 512.4,97.5 508.3,95.1 500.3,93.1 494.3,94.1 495.3,98.1 502.3,101.1 507.3,104.1 506.3,107.5 500.3,109.5 492.3,108.1 484.3,109.1 476.3,107.5 470.2,105.1 464.2,102.1 456.2,100.1 449.2,100.1 454.2,97.1 462.2,96.1 468.2,94.1 471.2,90.1 468.2,86.1 460.2,83.1 454.2,81.1 448.2,78.1 440.2,77.1 433.1,78.1 430.1,76.7 423.1,76.7 416.1,75.1 408.1,74.1 400.1,73 396,70ZM408.5,105 410.7,100.6 413.7,95.4 416.6,96.2 420.3,98.4 424.7,100.6 430.6,102.1 437.2,103.5 435,105.3 429.1,105 424.7,104.3 420.3,106.5 415.9,107.2 412.2,105.7ZM422.5,111.6 425.4,108.7 429.1,108.2 428.4,110.1 424.7,112.1ZM437.2,113.1 439.4,111.2 441.6,112.4 440.1,114.6 437.9,114.6ZM451.2,87.1 455.2,85.1 459.2,86.7 456.2,89.1ZM441.2,81.1 443.2,80.1 445.2,81.1 443.2,82.1ZM431.1,152.3 433.1,151.3 435.1,152.3 433.1,153.3ZM439.4,137.2 441.8,136 444.2,137.2 442.6,139.2 440.2,138.8ZM106.1,297.7 108.1,296.9 110.9,299.7 109.3,300.9 107.3,302.1 105.9,300.1ZM100.5,292.3 102.1,291.8 104.1,293.3 105.3,294.1 104.5,294.7 102.5,293.9 100.9,293.3ZM96.1,290.5 97.3,290.7 97.7,291.5 96.5,291.5ZM89.3,287.6 90.7,287.5 91,288.9 89.7,289.3ZM664,215.2 666,214.4 668,215.2 666,216ZM669.7,214.5 670.3,213.9 670.9,214.5 670.3,215.1ZM677.1,219 678.6,218.2 680.1,219 678.6,219.8ZM679.5,222.3 680,221.8 680.5,222.3 680,222.8ZM715.2,240.2 717,239.2 718.8,240.2 717,241.2ZM715.7,260.4 717.2,259.4 718.7,260.4 717.2,261.4ZM720.7,262 721.8,261.1 722.9,262 721.8,262.9ZM678.25,309.4 679,308.65 679.75,309.4 679,310.15ZM682.6,311.6 683.4,310.8 684.2,311.6 683.4,312.4ZM688.6,310.6 689.2,310 689.8,310.6 689.2,311.2ZM689.35,313.6 690,312.8 690.65,313.6 690,314.4ZM685.3,318.2 686.2,317.4 687.1,318.2 686.2,319ZM682.3,319.2 683,318.55 683.7,319.2 683,319.85ZM733.8,351 734.6,350.2 735.4,351 734.6,351.8ZM504,242.6 504.6,242 505.2,242.6 504.6,243.2ZM727,261 729,257.5 731.3,256 730.5,259 728.5,261.5ZM715.7,325.5 719.5,324 725.8,323.7 729.8,324.7 725.8,325.8 720.2,326.5 716.2,326.8ZM717,328.3 723.3,327.8 729.8,327.5 730.3,331.3 727.1,334.3 723.8,335.9 721.3,332.8 717.7,331.8ZM76.85,358 77.5,357.35 78.15,358 77.5,358.65ZM99.35,376 100,375.35 100.65,376 100,376.65ZM43.35,468 44,467.35 44.65,468 44,468.65ZM20.35,477 21,476.35 21.65,477 21,477.65ZM94.35,423 95,422.35 95.65,423 95,423.65ZM84.35,429.5 85,428.85 85.65,429.5 85,430.15ZM174.35,422 175,421.35 175.65,422 175,422.65ZM179.35,426 180,425.35 180.65,426 180,426.65ZM148.35,447 149,446.35 149.65,447 149,447.65ZM124.35,457 125,456.35 125.65,457 125,457.65ZM133.35,461 134,460.35 134.65,461 134,461.65ZM149.35,459.5 150,458.85 150.65,459.5 150,460.15ZM151.85,469.5 152.5,468.85 153.15,469.5 152.5,470.15ZM171.85,469.5 172.5,468.85 173.15,469.5 172.5,470.15ZM171.85,453 172.5,452.35 173.15,453 172.5,453.65ZM186.85,484.5 187.5,483.85 188.15,484.5 187.5,485.15ZM194.35,478.5 195,477.85 195.65,478.5 195,479.15ZM217.85,493 218.5,492.35 219.15,493 218.5,493.65ZM241.85,492 242.5,491.35 243.15,492 242.5,492.65ZM309.35,502 310,501.35 310.65,502 310,502.65ZM30,442.6 33,442.2 37,443.6 36.5,445 32,444.6ZM622.5,621 625,619.5 629,620.5 633,623.5 632,625 627.5,623.5 623.5,623ZM673.25,639.5 674,638.75 674.75,639.5 674,640.25ZM677.2,72.6 684.2,73 686.6,75.2 679.8,75ZM449,34.6 452.2,33.6 456.3,34.3 455.9,35.9 451.8,36.5 449.2,35.9ZM553.2,75.4 558.2,74.2 561.8,76.2 558.2,77.8 554.2,77.4Z" fill="#8dd2dc" stroke="#8dd2dc" stroke-width="0.8" stroke-linejoin="round" filter="url(#glow)"/>
<path d="M171.7,120 178.4,120 182.4,122.7 186.4,124.4 191.1,123.4 195.1,122 198.4,123.4 202.4,127.4 205.8,130.7 209.1,134.1 212.5,136.3 216.5,137.7 219.5,138.7 219.5,143.4 215.1,143.2 211.8,143.4 209.1,144.1 205.1,143.4 201.8,140.1 197.8,136.7 194.4,133.4 191.7,130.1 188.4,127.4 185.1,125.4 181,124.7 177,122.7 171.7,122 164.1,120.2 156,119.8 150,116.8 144.4,118.2 140.4,117.2 136.4,119.2 130.3,122.2 123.3,124.2 124.3,122.2 128.3,118.2 131.4,114.1 130.3,111.7 128.3,115.1 125.3,118.2 120.3,121.2 115.3,125.2 112.3,127.2 106.3,131.2 100.3,134.2 94.3,137.2 88.2,139.8 80.2,142.2 74.2,143.8 67.2,145.8 66.2,144.2 72.2,142.6 78.2,141.2 84.2,140.2 88.2,138.2 93.2,135.2 98.3,131.2 101.3,126.6 100.3,125.2 95.3,127.2 90.2,127.8 86.2,126.6 80.2,126.2 79.2,123.2 80.2,119.2 78.2,118.2 75.2,121.8 70.2,120.2 69.2,118.6 64.2,117.2 60.8,114.1 63.8,111.1 68.2,108.1 74.2,107.1 80.2,105.7 84.2,103.1 83.2,100.1 74.2,101.1 66.2,100.7 58.2,99.5 52.5,96.7 62.2,94.5 70.2,92.7 78.2,93.1 84.2,93.7 89.2,92.1 80.2,91.7 75.2,90.1 70.2,88.1 64.2,87.1 58.6,84.1 64.2,82.1 70.2,81.1 75.2,78.4 80.2,76.4 88.2,74.4 94.3,73.6 103.3,71.6 112.3,73.2 122.3,73.6 130.3,74.6 140.4,75 150,76.4 156,77 164.1,77.8 171.5,78.6ZM111.2,133.3 114.9,130.1 119.1,128 122.1,127.5 121.7,128.9 118.5,130.1 114.9,132.1 112.1,134.5ZM113,135.3 116.7,133.3 120.3,131.3 121.2,132.3 117.9,134.2 114.3,136.1ZM54.5,120.2 58.2,119.2 62.6,119.8 63.2,121.4 59.2,122.2 55.7,121.8ZM47.1,152.2 51.1,149.8 56.1,148.2 61.2,146.6 62.2,147.8 57.2,149.8 52.1,151.4 48.1,153.2ZM23.1,155.5 27.1,154.3 32.1,154.7 33.1,155.9 28.1,156.5 23.7,156.5ZM7,156.7 11,156.3 15.2,156.9 14.8,157.9 10,157.9 7.2,157.7ZM205.8,148.1 209.1,146.8 211.8,148.1 212.5,151.4 213.8,155.5 211.8,154.1 209.8,151.4 207.1,149.8ZM253.2,169.6 370,169.9 371.3,170.1 372.4,168.9 374,170.5 379.6,171.2 386,173.7 394.1,175.2 402.1,174.9 410.1,176.5 418.1,178.9 419.7,181.8 422.9,182.9 429.4,186.1 431,191.7 428.6,197.3 425.7,201.3 434.2,199.3 443,196.5 441.4,194.6 448.6,193 455.8,190.4 456,190.2 460.1,188.2 470.1,186.2 478.1,185.2 481.1,182.2 484.1,178.2 488.1,177.2 492.5,178.2 493.1,185.2 496.8,188.2 492.1,191.2 488.1,194.2 483.1,197.2 480.1,195 479.8,197.7 480.1,199.7 481.4,201 483.4,200.9 482.8,203 480.1,202.4 478.1,201.7 476.1,202.7 473.4,204 469.4,204.5 466.7,205 465.1,206.4 465.4,208.4 464.1,210.4 462.4,212.4 461.1,213.7 460.1,215.7 459.4,218.1 458.4,220.4 457.7,222.4 458,224.4 459.1,227.1 458.7,229.1 457.4,230.4 455.4,231.4 453.4,232.4 448,234 443.8,237 439.6,240.6 435.9,244.3 433.5,247.3 432.9,250.9 433.5,255.1 434.7,258.1 436.6,262.3 437.5,266.5 438,270.7 437.2,273.7 435.3,274.6 433.5,273.1 431.1,270.7 428.7,267.1 426.9,263.5 426.3,259.3 423.9,255.7 421.5,253.9 418.5,253.3 414.9,253.9 411.3,251.7 407.7,250.5 403.5,250.3 399.3,250.9 397.4,253.9 398,256.9 396.2,255.1 394.4,253.3 392,255.7 388.4,256.3 384.8,254.5 380,253.3 375.4,256.3 371.4,259.3 366.4,261.3 362.9,264.3 362.3,270.3 357.3,269.3 353.3,264.3 349.3,258.3 345.3,253.9 340.3,254.3 337.3,257.3 333.3,254.3 328.2,249.2 323.2,245.2 315.2,245.8 314.2,248.2 303.2,248.2 293.2,244.2 287.1,241.2 277.5,242.2 276.1,241.2 273.1,237.2 268.1,235.2 263.1,233.2 259.1,229.2 255.1,224.2 253,218.2 249,213.1 246,208.1 244.6,202.1 244,194.1 245,186.1 247.4,180.1 247.9,176.8 251.9,176.2 253.9,172.8ZM466.1,205.2 469.4,204.2 473.4,203.4 474.4,204 471.4,205 468.1,205.8ZM106.1,297.7 108.1,296.9 110.9,299.7 109.3,300.9 107.3,302.1 105.9,300.1ZM100.5,292.3 102.1,291.8 104.1,293.3 105.3,294.1 104.5,294.7 102.5,293.9 100.9,293.3ZM96.1,290.5 97.3,290.7 97.7,291.5 96.5,291.5ZM89.3,287.6 90.7,287.5 91,288.9 89.7,289.3Z" fill="#6fc4b9" stroke="#1a1a1a" stroke-opacity="0.6" stroke-width="0.5" stroke-linejoin="round"/>
<path d="M-12,82.5 0,82.5 6,84.5 12,86.1 18,88.1 24.1,90.1 30.1,91.1 37.1,91.1 45.1,94.5 40.1,96.1 35.1,99.1 32.1,102.1 28.1,101.1 24.1,99.1 18,98.1 12,97.1 6,95.1 2,96.1 0,98.1 -12,98.1ZM35.7,105.7 40.1,104.9 46.1,106.1 49.3,107.5 47.1,108.3 41.1,107.7 36.5,106.9ZM-8,70.8 0,70.8 5,70.4 10,71.6 9,73 4,73.6 0,73.4 -8,73.4ZM522.1,25 536.2,24 550.2,24.4 564.3,23 578.3,22 590.3,20 610.4,18.8 624.1,17.6 638.1,17.6 654.1,18.4 670.2,19 682.2,20.4 693.3,22 696.3,25 706.3,26 718.3,25 730.4,25.6 736,26.6 726.3,29.1 716.3,31.1 710.3,33.1 702.3,34.1 698.3,39.1 695.3,43.1 691.2,48.1 694.3,51.1 702.3,53.1 707.3,56.1 702.3,59.1 696.3,61.1 692.3,64.1 694.3,69.2 695.3,74.2 692.3,77.2 686.2,78.2 678.2,80.2 670.2,82.2 662.2,83.8 655.2,85.2 649.1,85.8 646.1,84.2 643.1,87.2 638.1,90.2 632.1,93.2 626.1,94.2 622.1,93.2 618.1,96.2 615.4,98.2 611.4,100.2 608.4,104.3 606.4,109.3 603.4,114.3 600.3,119.3 597.3,121.9 592.3,119.3 588.3,118.3 582.3,116.3 577.3,114.3 572.3,109.3 568.3,104.3 563.2,101.2 559.2,96.2 555.2,93.2 554.2,89.2 558.2,85.2 564.3,83.2 568.3,80.2 567.3,75.2 564.3,72.2 558.2,69.8 552.2,71.2 546.2,70.2 550,66.1 545.5,61.3 539.1,55.7 531.1,52.5 523,50.9 513.4,50.1 505.4,50.9 497.4,51.4 491,50.1 482.9,48.5 478.1,46.9 486.1,46.1 494.2,46.1 500.6,45.6 499,43.7 491,44.5 481.3,44 474.9,42.9 470.9,41.3 473.3,40.2 481.3,38.9 489.4,37.6 497.4,36.5 505.4,34.9 500.6,34.1 494.2,32.8 500.6,32.5 510.2,30.1 519,27.6 522.2,25.2ZM682.2,96.2 687.2,93.2 692.3,93.8 694.3,96.2 700.3,95.2 706.3,93.8 712.3,94.2 718.3,92.6 724.3,94.2 729.4,96.6 730.4,99.2 726.3,102.2 720.3,103.9 714.3,105.3 708.3,106.3 702.3,105.9 696.3,104.3 691.2,103.9 693.3,101.2 688.2,100.6 684.2,99.2 687.2,97.6ZM368,31.8 376,27.8 387.3,25.9 398.5,24.6 408.1,23 424.2,22.2 440.2,20.6 456.3,20.1 472.3,19.7 494.2,20.9 510.2,21.6 519.8,22.8 521.4,24.4 516.6,26 507,26.8 497.4,28.4 491,30.1 484.5,31.7 479.9,32.8 472.3,33.4 465.9,35.1 459.5,37.5 454.7,39.1 449.8,41.5 446.6,43.9 440.2,44.7 435.4,43.9 430.6,42.3 427.4,44.7 417.8,43.9 408.1,44.7 403.3,43.1 408.1,41.5 411.3,39.1 406.5,37.5 400.1,39.9 392.1,41.5 384.1,40.7 379.3,37.5 371.2,34.3ZM381.7,49.5 385.7,47.9 392.1,49.5 398.5,47.1 408.1,46.3 417.8,47.9 427.4,47.1 437,46.3 447.4,47.1 446.6,49.5 440.2,51.1 439.4,54.3 437,57 430.6,56.4 424.2,57.5 414.5,57 406.5,57.5 398.5,57 390.5,56.4 385.7,55.1 384.1,52.2ZM171.5,78.6 180.1,79.5 188.1,80.7 194.1,82.1 197.2,80.7 200.2,80.1 206.2,79.5 214.2,78 222.2,77 228.2,75.6 234.3,78 239.3,80.5 242.3,77.6 245.3,80.1 252.3,79.1 261.5,79.4 267.4,80.4 273.2,81.9 279.1,82.9 283.5,84.9 283.5,86.8 287.9,87.4 293.8,86.8 299.7,85.9 305.6,86.8 311.5,86.8 314.4,88.5 315.1,90.7 318.1,90.7 317.4,87.8 320.3,85.6 326.2,84.9 332.1,84.1 337.9,83.8 345,83.4 346.2,86.1 354.2,85.1 360.2,87.1 368.2,88.5 374.3,85.5 378.3,83.1 376.3,79.1 369.2,75.1 367.2,72 370.2,69.4 374.3,69 379.7,70.6 383.7,74.7 387.7,77.9 391.7,81.1 394.9,84.3 397.3,81.1 400.5,81.9 404.5,88.3 408.5,89.1 410.1,85.1 412.4,82.1 414,77.1 418.4,74.1 424.4,75.1 430,77.1 430.1,77.5 429.1,82.1 431.1,87.1 427.1,90.1 420.1,92.1 415.1,93.1 410.1,91.1 410,94 407.1,96.9 398.2,95.9 395,95.3 398.5,97.1 406.3,98.8 404.1,102.1 399.7,104.3 393.8,105 386.5,104.4 379.9,103.5 385.7,105.3 389.4,107.2 385,109.4 382.1,112.4 376.2,115.3 374.7,119.7 374,124.1 376.2,127.1 380.6,129.3 383.5,134.4 387.6,133.5 391.4,133.5 394.6,134.6 397.8,135.6 402.1,136.9 405.3,138.3 409.6,139.9 413.9,142.1 415.5,142.9 418.1,142.1 421.3,142.1 424.5,142.3 427.8,143.1 428.8,146.3 429.4,149.5 432.1,154.3 436.1,159.3 440.2,159.3 444.2,156.3 446.2,153.3 444.2,147.2 449.2,143.2 453.2,138.2 454.2,135.2 451.2,131.2 447.2,127.2 445.2,125.2 449.2,122.2 448.2,116.2 447.2,112.2 450.2,110.7 460.2,110.1 468.2,111.1 474.3,114.2 478.3,117.2 484.3,122.2 485.3,127.2 489.3,129.2 496.3,127.2 501.3,124.2 505.3,120.2 510.3,124.2 514.4,130.2 518.4,135.2 522.4,138.2 528.4,143.2 530.2,146.1 536.3,147.1 541.3,149.1 545.3,152.1 545.3,156.1 540.3,158.1 534.3,160.1 528.2,162.1 520.2,163.1 512.2,163.7 506.2,164.5 500.2,165.7 494.1,168.1 490.1,170.1 485.1,173.1 481.1,176.1 478.1,178.6 481.1,178.6 486.1,174.5 492.1,171.5 498.2,169.5 504.2,169.1 507.2,171.1 506.2,174.1 502.2,175.1 499.2,173.7 502.2,177.2 505.2,180.2 507.2,182.2 512.2,180.2 515.2,182.2 520.2,182.6 523.2,180.2 526.2,179.2 527.2,182.2 523.2,185.2 517.2,187.2 511.2,189.2 506.2,191.2 502.2,193.2 500.2,190.2 502.2,187.2 506.2,185.2 502.2,185.2 498.2,187.2 496.8,188.2 493.1,185.2 492.5,178.2 488.1,177.2 484.1,178.2 481.1,182.2 478.1,185.2 470.1,186.2 460.1,188.2 456,190.2 455.8,190.4 448.6,193 441.4,194.6 443,196.5 434.2,199.3 425.7,201.3 428.6,197.3 431,191.7 429.4,186.1 422.9,182.9 419.7,181.8 418.1,178.9 410.1,176.5 402.1,174.9 394.1,175.2 386,173.7 379.6,171.2 374,170.5 372.4,168.9 371.3,170.1 370,169.9 253.2,169.6 253.2,169.5 249.2,167.5 245.2,165.5 241.9,163.5 237.9,162.8 234.5,160.8 231.2,161.5 229.8,158.8 227.2,156.1 223.8,153.4 222.5,150.1 219.8,148.8 217.8,146.1 219.5,143.4 219.5,138.7 216.5,137.7 212.5,136.3 209.1,134.1 205.8,130.7 202.4,127.4 198.4,123.4 195.1,122 191.1,123.4 186.4,124.4 182.4,122.7 178.4,120 171.7,120ZM227.2,161.5 230.5,160.5 234.5,161.5 238.5,164.1 242.5,166.8 246.6,168.8 250.6,170.8 252.6,172.8 251.9,175.5 249.2,174.2 245.2,171.8 241.2,169.5 236.5,166.8 231.8,164.1 228.5,163.2ZM529.4,174.4 531.1,171.6 533.4,170.5 535.7,167 538,163.6 540.2,160.8 543.1,158.5 545.3,158.2 543.6,161.4 541.9,164.2 541.4,166.5 543.6,165.3 546.5,167 549.3,167.6 552.7,167 555,168.8 556.7,172.2 558.4,174.4 559,177.3 557.3,179.8 554.4,179.5 553.3,176.7 551,175 548.2,177.3 544.8,178.4 541.9,178.4 543.6,176.7 540.2,175.6 536.8,175.6 533.4,175.6 530.6,176.1ZM507.3,165.3 510.7,165.9 514.1,166.8 518.1,168.2 519.2,169.1 516.4,169.5 513,168.8 509.5,167.6 507.3,166.5ZM507.8,180.1 511.2,180.9 514.1,180.7 517.5,180.5 516.9,181.8 513.5,182.4 510.1,182 508.2,181.2ZM418,286.5 420,285.1 426,283.1 434,283.1 442.1,285.1 448.1,288.1 454.1,291.1 460.1,293.1 464.1,295.1 460.1,296.6 454.1,297.2 449.1,296.8 451.1,293.7 446.1,291.1 440.1,288.7 432,287.7 425,288.1 420,288.1 417,289.1 415,288.1ZM446.1,304.2 450.1,303.2 455.1,304.6 453.1,306.2 448.1,306.2ZM463.1,303.8 468.1,302.2 470.1,298.2 475.1,297.2 482.2,298.2 487.2,300.2 489.8,302.6 486.2,304.6 481.2,305.2 476.1,307.2 473.1,304.6 468.1,305.2 464.1,305.2ZM495.2,303.4 501.2,303.2 501.8,305.2 496.2,305.6ZM519.3,336.7 522.7,336.3 522.7,339.9 519.7,339.9ZM443.1,266.9 445.1,266.1 447.1,266.9 445.1,267.7ZM450.1,269.1 450.9,268.1 451.7,269.1 450.9,270.1ZM446.1,276.9 447.3,274.1 448.5,276.9 447.3,279.7ZM455.1,275.5 455.9,274.1 456.7,275.5 455.9,276.9ZM459.1,279.6 460.5,277.1 461.9,279.6 460.5,282.1ZM463.1,285.5 464,284.1 464.9,285.5 464,286.9ZM467.1,291 468.5,290.1 469.9,291 468.5,291.9ZM472.5,288.6 474.1,287.7 475.7,288.6 474.1,289.5ZM504.8,305 505.3,303.8 505.8,305 505.3,306.2ZM513.9,308.4 514.5,307.8 515.1,308.4 514.5,309ZM518.7,310.6 519.3,309.2 519.9,310.6 519.3,312ZM519.9,315.2 520.7,313.8 521.5,315.2 520.7,316.6ZM521.5,320 522.2,318.6 522.9,320 522.2,321.4ZM521.9,325.2 522.5,324.2 523.1,325.2 522.5,326.2ZM519.3,331.4 519.9,330.6 520.5,331.4 519.9,332.2ZM523.5,334.5 524,333.9 524.5,334.5 524,335.1ZM425.6,289.3 426.4,288.5 427.2,289.3 426.4,290.1ZM487.2,330.4 488.6,329.8 490,330.4 488.6,331ZM484.2,331.8 484.8,331.2 485.4,331.8 484.8,332.4ZM525.4,362.1 522.7,360.1 521.7,356.7 523.4,352.7 524.7,350.1 527.4,348 530.1,349.4 532.8,353.4 536.8,356.7 539.8,358.7 538.1,361.4 535.8,365 538.1,369.4 541.4,374.8 541.4,374.8 538.8,376.1 532.1,378.1 528.7,376.1 527.8,370.1 526.1,365 525.4,362.1ZM541.4,374.8 538.1,369.4 535.8,365 538.1,361.4 539.8,358.7 545.5,358.1 551.5,358.7 552.8,360.1 551.9,364.8 553.5,370.1 552.1,374.1 552.1,374.1 546.8,373.4 541.4,374.8ZM552.1,374.1 553.5,370.1 551.9,364.8 552.8,360.1 557.5,361.4 561.5,364.1 563.9,366.1 562.2,368.8 559.5,372.1 556.1,374.8 552.1,374.1ZM568.9,387.5 570.9,385.1 574.2,384.5 577.3,386.1 577.5,388.8 575.5,391.2 572.2,392.2 569.5,390.8ZM521.2,610.2 526.2,608.8 532.2,608.2 537.3,609.6 535.3,612.2 529.2,613.2 524.2,612.8ZM545.3,652.2 547.3,651.3 550.3,651.8 548.3,652.9ZM531.2,656.5 533.6,655.3 537.3,655.9 534.9,657.3ZM521.2,659 523.6,657.9 527.2,658.4 524.8,659.7ZM508.2,667 511.8,665.3 517.2,666.2 513.6,668.1ZM533.2,666.1 535.7,664.3 539.3,665.2 536.9,667.3ZM588,649.6 588.8,648.9 590,649.2 589.2,650.1ZM237.9,67.9 243.1,58.4 251.2,57.4 261.5,57.9 271.8,58.8 279.1,60.6 283.5,62.8 279.1,64.3 271.8,65.3 266.6,67.2 262.9,69.4 257.1,71.2 249.7,72.1 243.8,69.4ZM268.1,68.7 270.3,66.5 276.2,65 283.5,63.5 287.9,64.7 293.8,64.3 299.7,66.5 304.1,65.3 310,64.3 314.4,65 315.9,69.4 317.4,65.7 320.3,62.8 326.2,61.3 330.6,62.1 329.1,64.3 326.2,65 329.1,69.4 332.1,73.1 337.9,76 343.8,77.5 346.5,76.3 344,78.7 345,80.4 337.9,81.2 330.6,81.9 323.2,82.6 317.4,83.4 312.9,84.1 305.6,83.8 298.2,84.1 292.4,83.4 289.4,81.2 283.5,80.4 277.6,79.4 275.4,77.5 280.6,76 289.4,75.6 297.5,75 289.4,74.1 280.6,74.1 273.2,73.1 270.3,71.2 276.2,70.6 282.1,70.9 273.2,69.4ZM251.2,50.3 257.1,47.4 264.4,45.9 271.8,45.1 279.1,44.4 282.1,45.9 277.6,47.4 273.2,48.8 270.3,51 264.4,50.3 260,51.8 254.1,52.1ZM274.7,52.5 279.1,49.6 286.5,48.8 293.8,51 299.7,51.8 305.6,49.6 310,47.4 312.9,48.8 313.7,51 318.8,50.6 326.2,51.5 329.1,53.2 323.2,54.7 317.4,55.4 311.5,54.7 305.6,55.9 298.2,56.5 290.9,56.9 283.5,55.4 277.6,54.7ZM329.9,54.1 332.4,53.5 335,54.4 332.8,55.4ZM285,42.4 287.9,41.5 290.9,42.6 287.9,43.7ZM292.4,41.5 296.8,40 304.1,40.3 308.5,42.1 305.6,44.1 299.7,44.4 294.6,43.5ZM326.3,38.1 332.3,36.1 342.3,37.1 350.3,38.5 354.3,41.1 350.3,43.1 342.3,43.1 334.3,41.7 328.3,41.1ZM358.3,39.7 364.4,38.1 371.4,40.1 373.4,42.1 368.4,43.5 361.4,42.5ZM331.3,49.1 338.3,47.7 346.3,48.1 354.3,48.5 360.3,51.1 359.3,54.5 352.3,55.7 345.3,53.1 338.3,52.5 332.3,51.1ZM340.9,65.1 347.3,61 356.9,59.8 364.9,61 367.3,65.9 365.7,69.9 360.1,72 353.7,71.5 348.9,69.1 344.1,67.5ZM371,61 376.1,59.4 387.4,59.1 393.5,60.2 390.6,63.4 385.8,65.9 381,68.3 374.5,69.1 371.3,66.7ZM352.9,82.7 360.1,78.7 366.5,79.5 372.9,81.9 377.8,82.7 374.5,85.1 369.7,85.9 368.1,88.3 363.3,87.5 358.5,87ZM368.1,53.8 372.9,52.2 378.6,53.3 379,55.9 374.5,57 369.7,56.2ZM365.2,46.3 371.3,45 379.4,45.8 379.7,47.6 372.9,48.2 366.5,47.9ZM329.6,53.8 332.8,53 335.2,54.3 332.5,55.4ZM394.5,69.5 396.9,64.7 403.3,61.5 411.3,60.7 415.3,61.5 411.3,64.7 410.5,68.7 415.3,69.5 416.1,64.7 421,62.3 429,61.5 435.4,62.3 436.2,66.3 440.2,64.7 443.4,62.3 449.8,62.3 456.3,63.9 462.7,66.3 470.7,68.7 482.3,74.1 490.3,78.1 496.3,81.1 504.3,85.1 512.4,88.1 520.4,91.1 518.4,94.1 512.4,97.5 508.3,95.1 500.3,93.1 494.3,94.1 495.3,98.1 502.3,101.1 507.3,104.1 506.3,107.5 500.3,109.5 492.3,108.1 484.3,109.1 476.3,107.5 470.2,105.1 464.2,102.1 456.2,100.1 449.2,100.1 454.2,97.1 462.2,96.1 468.2,94.1 471.2,90.1 468.2,86.1 460.2,83.1 454.2,81.1 448.2,78.1 440.2,77.1 433.1,78.1 430.1,76.7 423.1,76.7 416.1,75.1 408.1,74.1 400.1,73 396,70ZM408.5,105 410.7,100.6 413.7,95.4 416.6,96.2 420.3,98.4 424.7,100.6 430.6,102.1 437.2,103.5 435,105.3 429.1,105 424.7,104.3 420.3,106.5 415.9,107.2 412.2,105.7ZM422.5,111.6 425.4,108.7 429.1,108.2 428.4,110.1 424.7,112.1ZM437.2,113.1 439.4,111.2 441.6,112.4 440.1,114.6 437.9,114.6ZM451.2,87.1 455.2,85.1 459.2,86.7 456.2,89.1ZM441.2,81.1 443.2,80.1 445.2,81.1 443.2,82.1ZM431.1,152.3 433.1,151.3 435.1,152.3 433.1,153.3ZM664,215.2 666,214.4 668,215.2 666,216ZM669.7,214.5 670.3,213.9 670.9,214.5 670.3,215.1ZM677.1,219 678.6,218.2 680.1,219 678.6,219.8ZM679.5,222.3 680,221.8 680.5,222.3 680,222.8ZM715.2,240.2 717,239.2 718.8,240.2 717,241.2ZM715.7,260.4 717.2,259.4 718.7,260.4 717.2,261.4ZM720.7,262 721.8,261.1 722.9,262 721.8,262.9ZM678.25,309.4 679,308.65 679.75,309.4 679,310.15ZM682.6,311.6 683.4,310.8 684.2,311.6 683.4,312.4ZM688.6,310.6 689.2,310 689.8,310.6 689.2,311.2ZM689.35,313.6 690,312.8 690.65,313.6 690,314.4ZM685.3,318.2 686.2,317.4 687.1,318.2 686.2,319ZM682.3,319.2 683,318.55 683.7,319.2 683,319.85ZM733.8,351 734.6,350.2 735.4,351 734.6,351.8ZM504,242.6 504.6,242 505.2,242.6 504.6,243.2ZM727,261 729,257.5 731.3,256 730.5,259 728.5,261.5ZM715.7,325.5 719.5,324 725.8,323.7 729.8,324.7 725.8,325.8 720.2,326.5 716.2,326.8ZM717,328.3 723.3,327.8 729.8,327.5 730.3,331.3 727.1,334.3 723.8,335.9 721.3,332.8 717.7,331.8ZM622.5,621 625,619.5 629,620.5 633,623.5 632,625 627.5,623.5 623.5,623ZM673.25,639.5 674,638.75 674.75,639.5 674,640.25ZM677.2,72.6 684.2,73 686.6,75.2 679.8,75ZM553.2,75.4 558.2,74.2 561.8,76.2 558.2,77.8 554.2,77.4Z" fill="#c5c3be" stroke="#1a1a1a" stroke-opacity="0.6" stroke-width="0.5" stroke-linejoin="round"/>
<path d="M277.5,242.2 287.1,241.2 293.2,244.2 303.2,248.2 314.2,248.2 315.2,245.8 323.2,245.2 328.2,249.2 333.3,254.3 337.3,257.3 340.3,254.3 345.3,253.9 349.3,258.3 353.3,264.3 357.3,269.3 362.3,270.3 362.1,277.1 361.7,283.1 362.5,289.1 365.1,295.1 369.2,300.1 374.2,303.1 380.2,303.5 386.2,302.7 390.2,300.1 392.2,296.1 394.2,292.1 399.2,290.7 405.3,290.1 408.7,291.1 407.9,295.1 406.3,299.1 403.9,303.1 403.9,303.1 401.2,303.5 398.2,304.1 398.2,306.7 392.2,306.7 389.2,307.5 390.2,311.1 387.2,315.2 385.2,319.6 380.2,316.2 374.2,314.2 368.2,315.2 362.1,314.2 354.1,311.1 346.1,307.1 338.1,304.1 332.1,300.1 327.6,295.1 328,289.1 324,283.1 319,278.1 314,274.1 310,271 309.2,266.3 304.2,262.3 299.2,258.3 296.2,254.3 294.2,249.2 291.1,245.2 287.5,245.8 288.7,251.2 292.2,256.3 295.2,260.3 298.8,265.3 302.2,270.3 305.2,276.3 308.2,279.3 309.6,281.9 307.2,283.7 304.2,280.3 299.6,277.3 297.6,273.3 293.6,268.3 289.5,264.3 285.1,261.9 286.7,259.3 283.1,254.3 280.1,248.2ZM398.2,304.1 401.2,303.5 403.9,303.1 404.3,307.1 403.2,311.1 401.8,314.2 398.2,313.2 398.2,306.7ZM404.3,314.8 410.3,314.2 418.3,314.8 424.3,316.8 424.7,319.2 421.3,320.2 418.3,322.2 414.3,323.2 411.3,325.2 409.3,327.2 407.3,328.2 405.9,325.2 404.3,324.2 402.2,322.8 399.2,321.2 399.2,319.2 402.2,316.2ZM424.7,319.2 424.3,325.2 423.3,331.2 422.3,336.2 420.3,337.2 416.3,336.2 413.3,334.2 411.3,331.2 408.3,328.2 409.3,327.2 411.3,325.2 414.3,323.2 418.3,322.2 421.3,320.2ZM413.3,334.2 416.3,336.2 420.3,337.2 422.3,336.2 425.3,340.2 427.3,343.2 426.3,347.6 424.3,346.2 421.3,343.2 418.3,342.2 416.3,339.2 414.3,338.2ZM426.9,342.9 429.3,344.2 433.8,345.2 438.2,343.8 441.9,342 445.6,342.7 448.9,345.5 450.8,348.7 449.1,351.5 447.1,350.7 445.3,347.5 442.4,345.5 439.4,347.5 438.2,351.5 436,352.2 433.8,349.3 430,348.5 426.3,347.6ZM450,348 453,344 457,340 462.1,336 468.1,334 474.1,331 477.7,331.6 477.1,334.4 473.1,337 470.1,342 471.1,347 475.1,350.1 480.1,352.1 486.1,355.1 492.1,356.1 494.1,360.1 493.1,366.1 494.1,372.1 494.5,375.7 494.5,375.7 488.1,376.5 484.1,378.1 483.1,382.1 483.7,388.2 483.1,396.2 482.1,401.2 482.1,401.2 482.8,400.9 481.6,397.3 478.6,394.9 473.8,394.9 469,394.3 466.6,391.3 462.9,387.7 459.6,385.9 459.6,385.9 458.1,383.5 454.5,382.9 449.7,381.1 443.7,379.3 446.1,373.2 449.7,369.6 451.5,366 450.9,362.4 448,356.1 449,351.1ZM494.5,375.7 494.1,372.1 493.1,366.1 494.1,360.1 492.1,356.1 486.1,355.1 480.1,352.1 475.1,350.1 471.1,347 470.1,342 473.1,337 477.1,334.4 479.1,336 480.1,334 483.1,332.4 487.1,332 490.1,335 498.2,337 506.2,338 514.2,339 520.2,340 524.2,344 527.2,348.4 527.4,348 524.7,350.1 523.4,352.7 521.7,356.7 522.7,360.1 525.4,362.1 525.2,362.1 522.2,364.1 516.2,365.1 509.2,366.1 507.2,368.1 508.2,373.1 511.2,375.1 506.2,377.1 500.2,380.1 496.1,379.1 494.5,375.7ZM494.5,375.7 496.1,379.1 500.2,380.1 506.2,377.1 511.2,375.1 508.2,373.1 507.2,368.1 509.2,366.1 516.2,365.1 522.2,364.1 525.2,362.1 525.4,362.1 526.1,365 527.8,370.1 528.7,376.1 532.1,378.1 538.8,376.1 541.4,374.8 541.4,374.8 546.8,373.4 552.1,374.1 552.1,374.1 556.1,374.8 559.5,372.1 562.2,368.8 563.9,366.1 566.1,369 569.1,375 571.1,380.1 569.1,383.1 567.1,387.1 569.1,392.1 573.1,393.1 578.1,389.1 583.1,387.1 589.2,389.1 594.2,392.1 595.2,395.7 599.2,394.5 606.2,396.1 614.2,397.1 620.2,399.1 625.3,403.1 630.3,405.7 634.3,407.1 636.7,411.1 636.9,416.1 635.3,421.2 632.3,425.2 628.3,429.2 624.3,434.2 621.2,439.2 618.2,442.2 617.8,448.2 618.2,454.3 617.2,460.3 615.2,466.3 612.2,472.3 609.2,477.3 606.2,481.3 601.2,483.3 596.2,485.3 590.2,488.3 584.1,491.4 580.3,494.5 576.7,500.2 575.3,506.2 571.3,512.2 567.3,517.2 563.3,522.2 559.3,526.2 556.3,529.2 553.3,525.2 549.3,522.2 544.3,519.2 540.2,515.8 537.2,517.2 537.2,517.2 540.2,513.2 544.3,509.2 549.3,505.2 553.3,502.2 554.3,498.2 551.3,496.1 551.3,496.1 550.3,490.1 546.3,489.1 545.9,485.1 542.2,482.5 536.2,481.1 535.2,475.1 534.2,469.7 534.2,469.7 536.2,466.1 535.2,461.1 531.2,457 527.2,455 525.2,450 524.2,445 518.2,442 515.2,439.3 509.2,436.3 503.8,432.3 503.2,426.7 498.2,426.7 490.1,430.3 484.1,432.7 484.1,432.7 480.1,430.3 478.1,428.3 475.1,425.3 470.1,423.2 467.1,418.2 466.1,412.2 470.1,407.2 476.1,404.2 482.1,401.2 482.1,401.2 483.1,396.2 483.7,388.2 483.1,382.1 484.1,378.1 488.1,376.5 494.5,375.7ZM436.5,402.7 438.3,403.9 440.7,405.7 442.5,405.5 444.3,402.1 446.1,398.5 449.7,396.7 453.3,394.9 456.9,391.9 459.3,388.9 459.6,385.9 459.6,385.9 462.9,387.7 466.6,391.3 469,394.3 473.8,394.9 478.6,394.9 481.6,397.3 482.8,400.9 482.1,401.2 476.1,404.2 470.1,407.2 466.1,412.2 467.1,418.2 470.1,423.2 475.1,425.3 478.1,428.3 480.1,430.3 484.1,432.7 487.1,438.3 487.1,444.3 486.1,450.3 485.3,455.3 485.7,460.1 484.1,462.5 481.1,463.1 472.1,458 464,452 458,446 456,446.3 453,438.3 449,430.3 445,422.2 443.1,420 441.3,416.6 438.3,412.9 435.3,409.3 433.5,406.3 434.1,403.9ZM537.2,517.2 540.2,515.8 544.3,519.2 549.3,522.2 553.3,525.2 556.3,529.2 554.3,533.2 550.3,536.3 544.3,536.7 538.2,535.3 534.2,534.3 535.2,530.2 536.2,524.2 537.2,517.2ZM484.1,462.5 487.1,466.1 489.1,470.1 490.1,476.1 491.1,480.1 493.1,484.1 493.1,484.1 491.1,490.1 489.1,494.1 489.1,500.2 486.1,506.2 483.1,514.2 482.1,520.2 481.1,526.2 482.1,532.2 480.1,540.3 478.1,545.3 477.1,553 474.7,560 474,564.5 474,568.9 473.4,573.4 475.1,576.7 476.2,580.1 475.6,584 474,587.9 472.9,591.8 471.7,595.1 470.1,598.5 468.4,602.4 468.4,605.7 470.6,606.8 472.9,607.4 472.9,611.3 476.8,611.8 482.3,612.2 486.2,612.4 489,613.3 489,614.6 489,624.6 491.8,627.4 487.9,626.7 483.4,625.8 479,624.1 474.5,621.9 470.1,620.2 466.7,617.4 462.3,615.2 461.1,611.3 461.7,607.4 460.6,604.6 459.5,602.4 460.6,600.7 459.5,598.5 458.9,595.7 459.5,591.2 458.4,589 460.6,586.8 463.4,585.6 466.7,585.1 466.9,582.3 467.8,578.4 466.7,574.5 463.9,573.9 463.9,571.1 465,566.7 466.2,563.3 466.7,560 467.1,553 468,548.3 470.1,540.3 473.1,530.2 475.1,520.2 475.7,510.2 477.1,500.2 479.1,490.1 480.5,480.1 481.1,470.1 481.1,463.1Z" fill="#fdbb63" stroke="#1a1a1a" stroke-opacity="0.6" stroke-width="0.5" stroke-linejoin="round"/>
<path d="M385.2,319.6 387.2,315.2 390.2,311.1 389.2,307.5 392.2,306.7 398.2,306.7 398.2,313.2 401.2,314.2 404.3,314.8 402.2,316.2 399.2,319.2 397.2,322.2 394.2,323.2 390.2,322.2 387.2,321.2ZM394.2,323.2 397.2,322.2 399.2,321.2 402.2,322.8 404.3,324.2 403.2,326.2 399.2,325.6 396.2,324.8ZM438.3,399.7 440.1,397.3 437.7,396.1 435.9,394.3 435.5,390.1 437.1,386.5 438.9,382.3 441.3,380.2 443.7,379.3 449.7,381.1 454.5,382.9 458.1,383.5 459.6,385.9 459.6,385.9 459.3,388.9 456.9,391.9 453.3,394.9 449.7,396.7 446.1,398.5 444.3,402.1 442.5,405.5 440.7,405.7 438.3,403.9 436.5,402.7ZM515.2,481.1 517.2,475.1 522.2,471.1 529.2,469.1 534.2,469.7 534.2,469.7 535.2,475.1 536.2,481.1 542.2,482.5 545.9,485.1 546.3,489.1 550.3,490.1 551.3,496.1 551.3,496.1 549.3,500.2 545.3,503.2 540.2,504.2 535.2,502.2 534.2,499.2 536.2,495.1 533.2,491.1 527.2,488.1 521.2,485.1 515.2,481.1ZM388.6,384.3 390.6,383.7 391.8,386.4 390.2,389 388.6,387.4ZM393,386.6 394.2,386.1 394.6,387.8 393.4,388.2ZM396.6,386.6 397.8,386.6 397.8,387.8 396.6,387.8Z" fill="#ef714d" stroke="#1a1a1a" stroke-opacity="0.6" stroke-width="0.5" stroke-linejoin="round"/>
<path d="M484.1,432.7 490.1,430.3 498.2,426.7 503.2,426.7 503.8,432.3 509.2,436.3 515.2,439.3 518.2,442 524.2,445 525.2,450 527.2,455 531.2,457 535.2,461.1 536.2,466.1 534.2,469.7 534.2,469.7 529.2,469.1 522.2,471.1 517.2,475.1 515.2,481.1 515.2,481.1 510.2,480.1 507.2,482.1 502.1,480.1 497.1,481.1 493.1,484.1 493.1,484.1 491.1,480.1 490.1,476.1 489.1,470.1 487.1,466.1 484.1,462.5 484.1,462.5 485.7,460.1 485.3,455.3 486.1,450.3 487.1,444.3 487.1,438.3 484.1,432.7ZM493.1,484.1 497.1,481.1 502.1,480.1 507.2,482.1 510.2,480.1 515.2,481.1 515.2,481.1 521.2,485.1 527.2,488.1 533.2,491.1 536.2,495.1 534.2,499.2 535.2,502.2 540.2,504.2 545.3,503.2 549.3,500.2 551.3,496.1 554.3,498.2 553.3,502.2 549.3,505.2 544.3,509.2 540.2,513.2 537.2,517.2 536.2,524.2 535.2,530.2 534.2,534.3 538.2,538.3 541.2,543.3 539.3,549 534.3,552 526.2,554 518.2,555 517.2,559 516.2,562 510.2,563 505.2,564.1 504.6,566.7 505.7,570.3 507.4,569.1 509.6,568.7 511.1,570.3 510.2,572 508,572.3 505.7,572.3 504.6,574.5 503.3,577.8 502.4,580.6 499,581.7 495.7,583.4 494,586.2 494.6,589 497.9,590.3 501.3,591.4 501.5,593.4 499,595.7 495.7,597.3 492.9,599.6 490.7,602.4 488.5,604 486.8,606.8 485.9,609.6 486.8,611.8 489,613.3 486.2,612.4 482.3,612.2 476.8,611.8 472.9,611.3 472.9,607.4 470.6,606.8 468.4,605.7 468.4,602.4 470.1,598.5 471.7,595.1 472.9,591.8 474,587.9 475.6,584 476.2,580.1 475.1,576.7 473.4,573.4 474,568.9 474,564.5 474.7,560 477.1,553 478.1,545.3 480.1,540.3 482.1,532.2 481.1,526.2 482.1,520.2 483.1,514.2 486.1,506.2 489.1,500.2 489.1,494.1 491.1,490.1 493.1,484.1ZM489,614.6 491.2,616.3 493.5,619.1 496.8,621.3 500.2,623 504.1,624.1 500.2,624.4 496.8,624.6 489,624.6ZM506.3,624 508.5,623.6 510.7,623.9 508.5,624.4Z" fill="#d92e57" stroke="#1a1a1a" stroke-opacity="0.6" stroke-width="0.5" stroke-linejoin="round"/>
<path d="M439.4,137.2 441.8,136 444.2,137.2 442.6,139.2 440.2,138.8Z" fill="#444" stroke="#1a1a1a" stroke-opacity="0.6" stroke-width="0.5" stroke-linejoin="round"/>
<path d="M76.85,358 77.5,357.35 78.15,358 77.5,358.65ZM99.35,376 100,375.35 100.65,376 100,376.65ZM43.35,468 44,467.35 44.65,468 44,468.65ZM20.35,477 21,476.35 21.65,477 21,477.65ZM94.35,423 95,422.35 95.65,423 95,423.65ZM84.35,429.5 85,428.85 85.65,429.5 85,430.15ZM174.35,422 175,421.35 175.65,422 175,422.65ZM179.35,426 180,425.35 180.65,426 180,426.65ZM148.35,447 149,446.35 149.65,447 149,447.65ZM124.35,457 125,456.35 125.65,457 125,457.65ZM133.35,461 134,460.35 134.65,461 134,461.65ZM149.35,459.5 150,458.85 150.65,459.5 150,460.15ZM151.85,469.5 152.5,468.85 153.15,469.5 152.5,470.15ZM171.85,469.5 172.5,468.85 173.15,469.5 172.5,470.15ZM171.85,453 172.5,452.35 173.15,453 172.5,453.65ZM186.85,484.5 187.5,483.85 188.15,484.5 187.5,485.15ZM194.35,478.5 195,477.85 195.65,478.5 195,479.15ZM217.85,493 218.5,492.35 219.15,493 218.5,493.65ZM241.85,492 242.5,491.35 243.15,492 242.5,492.65ZM309.35,502 310,501.35 310.65,502 310,502.65Z" fill="#7d8a8c" stroke="#1a1a1a" stroke-opacity="0.6" stroke-width="0.5" stroke-linejoin="round"/>
<path d="M30,442.6 33,442.2 37,443.6 36.5,445 32,444.6Z" fill="#6f7a7c" stroke="#1a1a1a" stroke-opacity="0.6" stroke-width="0.5" stroke-linejoin="round"/>
<path d="M449,34.6 452.2,33.6 456.3,34.3 455.9,35.9 451.8,36.5 449.2,35.9Z" fill="#3a3a3a" stroke="#1a1a1a" stroke-opacity="0.6" stroke-width="0.5" stroke-linejoin="round"/>
<path d="M566.2,382.8 568.9,383.5 569.8,385.5 568.4,388.2 569.1,391.2 567.1,392.8 565,392.2 565.5,388.8 564.8,385.5ZM689.2,77 682.2,76.6 676.2,75.4 668.2,76.2 663.8,74.2 667.2,70.8 672.2,69.8 678.2,71.2 686.2,72.2 694.7,74.6ZM699.3,38.5 702.3,34.5 706.3,33.7 704.3,37.1 701.3,40.1ZM695.9,43.7 702.3,44.5 707.9,46.5 706.3,48.1 700.3,46.9 695.5,46.1ZM692.3,48.5 698.3,49.3 704.3,50.9 702.3,52.5 696.7,51.3 692.3,50.1ZM396.1,51.6 408.1,50.8 424.2,51.3 438.6,51.6 437.8,53.2 424.2,53.7 408.1,53.7 396.9,53.2ZM388.1,30.2 396.9,31 406.5,33.9 412.9,35.5 411.3,37.1 404.9,35.9 396.9,33.4 389.7,32.3ZM468.4,566.9 471.2,566.7 470.7,571.1 469.6,575 468.4,574.5 468.9,570.6ZM465.6,589.5 466.7,592.3 464.5,593.2 461.7,593 462.5,590.7ZM461.1,600.4 464.5,599 464.8,600.4 461.7,601.5ZM466.7,609.6 469.5,609.6 467.8,611.1 469.6,613.5 467.8,615.5 465,614.6 466.7,612.4 465.4,610.8ZM472.9,611.5 479,612.4 485.7,613.1 489,613.5 489,614.6 485.7,614.2 479,613.5 472.9,612.6ZM478.4,615.7 480.7,615.2 481.8,618 480.1,620.7 478.4,619.1ZM551.2,74.6 556.2,72.6 562.2,73.8 564.7,76.6 560.2,79.2 554.2,78.6 550.2,77.2Z" fill="#a9dde6" stroke="#1a1a1a" stroke-opacity="0.6" stroke-width="0.45" stroke-linejoin="round"/>
<path d="M137.7,117.3 140.1,116.1 141.3,117.9 143.1,116.7 145.5,118.5M140.7,121.7 142.5,120.5 144.3,119.7M129.9,111.8 131.1,114.9 134.1,116.7M640.1,25.2 654.1,24 666.2,24.6 674.2,23.2 686.2,22.4 692.3,23.2M666.2,27.2 678.2,26 688.2,25.2M680.2,30.9 686.2,29.1 692.3,27M707.3,56.1 702.3,57.7 698.3,60.1M692.3,64.1 686.2,63.1 680.2,63.7 672.2,63.7M689.2,67.2 682.2,66.1 677.2,67.8M695.3,70.2 688.2,69.4 682.2,70.2M710.3,33.1 704.3,31.7 698.3,32.1M716.3,31.1 710.3,30.1 702.3,30.1M387.3,27 395.3,28.6 404.9,29.4 412.9,31M396.9,30.2 406.5,32.6 416.1,31.8 424.2,32.6M408.1,24.6 414.5,27 424.2,26.2 432.2,27.8M417.8,34.3 427.4,35.9 435.4,35.1M379.3,32.6 388.9,35.1 398.5,34.3M427.4,30.2 437,31 446.6,30.2 456.3,31M437,24.6 446.6,26.2 456.3,25.4M443.4,34.3 451.4,33.4 459.5,31.8M400.1,37.5 408.1,35.9 414.5,36.7M446.6,23 456.3,22.7 465.9,23.3M190.4,124 193.7,127.4 197.1,130.1 200.4,133.4 203.8,136.7 206.4,140.7M195.1,122.7 197.8,126.7 201.1,130.1 205.1,134.1 209.1,137.4 211.8,141.4M199.1,124.7 203.1,129.4 207.1,132.7 211.1,136.7 215.1,138.7 217.1,142.1M192.4,128.7 195.7,132.1 199.1,136.1 203.1,139.4M209.1,138.7 210.5,142.1M213.8,138.1 214.5,142.8M181,123.4 183.7,124.4 185.1,123.4M207.8,148.8 209.8,150.1 211.1,152.8M219.8,148.8 221.8,148.1 222.8,150.1M223.8,153.4 225.8,153 226.8,155.5M229.8,158.8 231.8,158.1 232.5,160.1M463.9,573.9 466.7,574.3 468.4,570.6 467.8,566.9 463.9,567.2M460.6,586.8 462.3,590.1 459.5,590.7M463.4,585.6 464.5,588.4 466.7,588.4M458.9,595.7 461.1,593.4 464.5,593.4M464.5,598.5 461.1,600.1 459.5,598.5M462.8,604.6 465,603.5 465.6,606.8M461.7,607.4 463.4,609 465,610.7M466.7,617.4 469.5,615.7 472.9,616.3 475.6,618M474.5,621.9 476.8,619.6 475.6,616.8M483.4,625.8 484.6,622.4 483.4,619.1 485.7,616.3M470.1,620.2 472.3,618.5 474,619.6M462.3,581.2 464.5,579.5 465.6,582.3M479,624.1 481.8,622.4 486.8,623.5M492.3,79.1 489.3,82.1 484.3,83.1M500.3,83.1 497.3,86.1 492.3,87.1M508.3,86.7 505.3,89.5 500.3,90.1M516.4,89.5 512.4,92.1 508.3,92.7M484.3,75.1 481.3,78.7 476.3,79.1M500.3,109.5 497.3,106.1 492.3,105.1M488.3,105.1 485.3,103.1 480.3,103.1M517.2,136 514.2,137.6 512.2,136.4M525.2,143.1 522.2,144.5 519.8,143.3M530.2,146.1 534.3,148.1 531.2,150.1 524.2,150.1M456.4,211 455,213 454.8,216.4 455.7,218.4 455.4,221.7 456,224.4 456.7,227.1M451,215.1 452.4,216.4 454.4,217.1M458.4,211.4 459.7,213 460.7,214.4M453.4,226.4 455,226.8 456,227.8M453.7,229.4 455.7,229.4M558.2,85.2 561.2,87.2 564.3,86.2M555.2,93.2 559.2,93.8 561.2,92.2M563.2,101.2 566.3,100.2 568.3,98.2M572.3,109.3 575.3,107.9 576.3,105.9M582.3,116.3 584.3,113.9 587.3,113.3M603.4,114.3 601.4,111.3 598.3,110.3M608.4,104.3 606,102.2 602.8,101.8M534.2,53.7 538.2,52.5 542.2,53.1M498.1,51.1 502.1,52.5 507.1,51.7" fill="none" stroke="#1a1a1a" stroke-opacity="0.6" stroke-width="0.45" stroke-linejoin="round" stroke-linecap="round"/>
<path d="M412.7,331.6 415.3,332.2 417.3,334.2 415.3,334.8 413.3,333.6ZM475.3,338 478.1,336.8 479.5,340.4 478.5,344.4 476.1,344 474.9,341ZM240.6,94.1 245.3,93.1 251.2,93.5 257.1,92.4 262.9,90.9 266.6,91.6 264.4,93.1 269.6,92.6 274.4,92.4 274,94.6 270.3,96.5 266.6,96 263.7,98.2 259.3,98.5 257.1,100.4 252.6,99.4 249,99.7 251.2,97.5 254.9,96 249.7,95.3 243.8,95.6ZM269.6,115.1 273.2,114.4 277.6,115.9 282.1,115.1 285,112.9 282.8,110.7 279.9,108.2 283.5,109.3 286.5,111.5 287.9,109.3 290.1,111.5 293.8,111.2 298.2,110 302.6,108.8 307.1,108.5 310.7,109.3 307.1,111.2 302.6,111.2 298.2,112.9 293.8,115.1 289.4,116.6 285,117.6 279.1,117.6 274,116.2ZM302.4,126.9 305.6,124.7 309.3,122.9 311.5,121.5 313.7,122.9 317.4,123.5 322.9,124.1 317.4,125 312.9,125 308.5,126.2 304.9,127.6ZM357.1,145.8 359.5,146 361.8,147.2 360.4,148.6 362.3,150.9 364.2,153.7 366,157 368.4,159.3 368.2,161.7 366.5,163.5 364.8,163.1 365.4,160.3 364.6,158.4 362.3,157.5 360.4,156.1 358.5,153.7 356.7,152.3 354.8,150.4 355.7,148.6 358.1,148.1ZM346.1,151.8 347.3,149.8 350.1,149.5 352,150.9 352.5,153.7 352.9,157 355.3,157.9 357.1,160.3 359,162.6 359.9,163.5 358.1,164.5 356.7,162.6 355.3,160.3 352.9,158.4 350.6,157.9 350.1,155.1 349.2,153.2 347.3,153.2ZM386.8,179.8 388.8,178.2 392,177 395.2,175 398,173 400.9,171 403.3,169.8 405.7,170.5 407.7,171.8 409.7,170.8 411.7,172.2 413.7,173.8 416.9,174.6 418.3,177 419.3,179.8 420.3,181.4 417.7,180.6 414.5,180.2 411.3,179.8 408.1,179 405.7,177.8 403.7,176.2 401.7,177 399.3,177.8 396,178.8 392.8,179.4 389.6,180.1ZM404.5,189.1 405.7,186.7 407.7,184.7 410.5,183.4 413.7,182.8 416.5,183 416.9,183.9 414.5,185.5 412.1,187.5 410.9,190.7 410.9,194.7 410.1,197.9 408.5,200.7 406.9,201.5 405.3,200.3 404.5,197.1 404.5,193.1ZM420.1,182.2 423.3,181.8 427.3,182.2 431.3,183 435.3,184.3 437.8,185.5 439,187.9 437.4,189.1 435.3,188.3 432.9,187.1 432.1,189.1 431.7,191.9 430.9,194.3 429.3,196.7 428.1,197.9 427.3,195.5 426.9,192.7 425.3,191.1 423.3,192.3 422.5,190.7 423.7,188.3 422.9,185.5 421.7,183.9ZM424.9,201.1 427.3,199.5 430.5,198.3 434.5,197.1 438.6,196.3 442.2,195.7 443.2,197 439,199.4 436.1,200 432.1,201 428.1,202.1 425.7,202.5ZM440.6,193.3 444.6,192 450.2,190.9 455,190.1 455.8,191.7 451.8,193.6 447,194.6 442.2,194.9ZM293.2,201.1 296.2,202.1 299.2,205.1 297.2,206.1 294.8,204.1ZM434.1,265.3 435.6,264.9 436.3,266.5 435.1,267.4 434.1,266.5ZM483.1,451.6 485.7,451 488.1,453.6 487.1,455.2 484.5,454ZM561.5,522.6 563.9,519.2 566.3,516.2 567.5,517 565.3,520.2 562.7,523.4Z" fill="#d9effa" stroke="#3f9ad6" stroke-width="0.7" stroke-linejoin="round"/>
</svg></div>
<div id="top"></div><div id="right"></div>
<div id="legend"><h1>Prevalence of <em>T. cruzi</em> Infection</h1>
<ul>
<li><i style="background:#c5c3be"></i><span>No data</span></li>
<li><i style="background:#6fc4b9"></i><span>Very low (&lt;0.1%)</span></li>
<li><i style="background:#fdbb63"></i><span>Low (0.1–0.9%)</span></li>
<li><i style="background:#ef714d"></i><span>Moderate (1.0–2.9%)</span></li>
<li><i style="background:#d92e57"></i><span>High (3.0% or higher)</span></li>
</ul></div>
</body></html>
